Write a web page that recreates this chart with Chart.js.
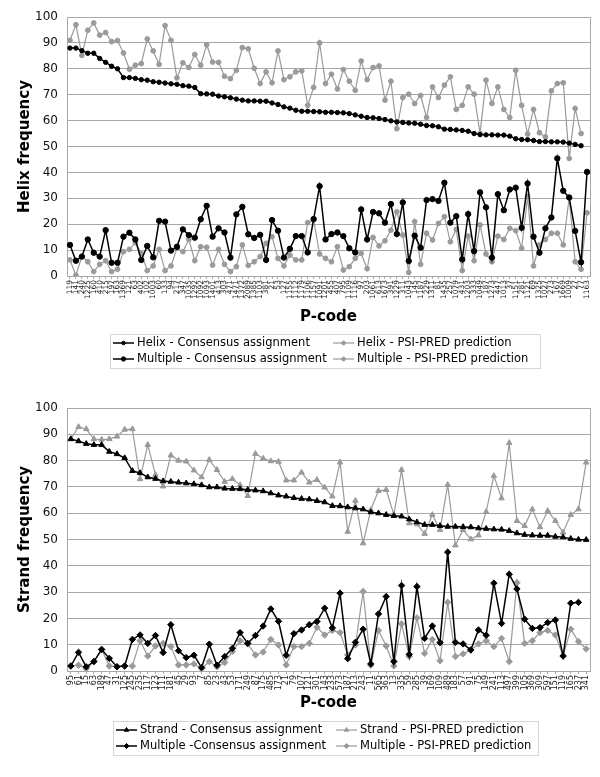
<!DOCTYPE html>
<html>
<head>
<meta charset="utf-8">
<script src="https://cdn.jsdelivr.net/npm/chart.js@4.4.1/dist/chart.umd.min.js"></script>
<style>
  html, body { margin: 0; padding: 0; background: #fff; }
  .painel { position: absolute; left: 0; width: 600px; }
</style>
</head>
<body>
<div class="painel" style="top:0;height:390px"><canvas id="helixChart" width="600" height="390"></canvas></div>
<div class="painel" style="top:390px;height:387px"><canvas id="strandChart" width="600" height="387"></canvas></div>
<script>
// P-codes do grafico de helice (88 proteinas)
var helixCodes = ['119','141','240','1225','160','410','215','197','163','1369','121','63','402','102','1003',
  '60','133','94','217','347','1035','1292','1092','1093','1401','413','303','471','1471','1372','2089','1385',
  '1103','381','21','53','127','1155','1112','1179','1106','1157','1091','1201','455','407','795','1109','1116',
  '97','203','1061','613','1673','391','1229','311','1043','145','1187','229','1311','81','1435','257','1079',
  '431','1203','333','1049','187','1273','447','1013','37','1151','281','1121','69','1325','1027','273','167',
  '1669','1009','27','77','1163'];

var helixConsenso = [88, 88, 87, 86, 86, 84, 82.5, 81, 80, 76.6, 76.6, 76.3, 75.8, 75.6, 75, 74.8, 74.5, 74.2,
  74, 73.5, 73.3, 72.8, 70.4, 70.3, 70.2, 69.5, 69.2, 68.8, 68.3, 67.9, 67.6, 67.6, 67.5, 67.5, 66.8, 66.2, 65.3,
  64.8, 64, 63.6, 63.6, 63.5, 63.4, 63.2, 63.2, 63.1, 63, 62.7, 62.2, 61.7, 61.2, 61.1, 60.8, 60.4, 59.9, 59.5,
  59.3, 59.1, 59, 58.6, 58.1, 58, 57.6, 56.7, 56.6, 56.4, 56.2, 55.9, 55, 54.6, 54.5, 54.5, 54.4, 54.4, 54, 53,
  52.7, 52.6, 52.3, 51.9, 51.9, 51.8, 51.8, 51.7, 51.3, 50.8, 50.3, null];

var helixPsipred = [91, 97, 85.2, 94.9, 97.7, 93, 94, 90.5, 90.9, 86.1, 79.8, 81.4, 82, 91.5, 86.9, 81.7, 96.7,
  91, 76.5, 82.3, 80.5, 85.5, 81.4, 89.3, 82.6, 82.5, 77.1, 76.2, 79.4, 88.2, 87.7, 80.2, 74.3, 78.8, 74.6, 86.9,
  75.8, 76.9, 78.8, 79.2, 65.9, 72.8, 90, 74.3, 77.9, 72.2, 79.7, 75.2, 71.7, 83, 75.8, 80.5, 81.1, 67.9, 75.2,
  56.9, 68.9, 70.2, 66.6, 69.7, 61.2, 73, 68.9, 73.7, 76.9, 64.3, 65.9, 73, 70.2, 55, 75.6, 66.6, 73, 64.3, 61.2,
  79.4, 65.9, 54.8, 64.3, 55.3, 53.7, 71.5, 74.3, 74.6, 45.4, 64.7, 55, null];

var helixMultConsenso = [12, 5.9, 7.5, 14.1, 9, 7.5, 17.7, 5.1, 5.1, 15.2, 16.7, 14.1, 6.2, 11.6, 7.2, 21.3, 21,
  9.8, 11.3, 18, 15.8, 14.8, 21.9, 27.1, 15.2, 18.4, 16.8, 7.1, 23.8, 26.7, 16.1, 14.7, 15.9, 6.2, 21.6, 17.5,
  7.1, 10.5, 15.4, 15.4, 9.1, 22, 34.7, 14.1, 16.2, 16.8, 15.4, 10.7, 9.1, 25.7, 14.1, 24.7, 24.2, 20.6, 27.8,
  16.2, 28.4, 5.8, 15.6, 10.9, 29.3, 29.7, 29, 36, 20.6, 23.1, 6.4, 23.9, 9.6, 32.3, 26.5, 7.1, 31.6, 25.4, 33.4,
  34.1, 18.6, 35.7, 15.2, 9, 18.4, 22.6, 45.4, 32.9, 30.3, 17.4, 5.3, 40.2];

var helixMultPsipred = [6.2, 0.3, 7.5, 5.5, 1.7, 4.5, 5.9, 1.7, 2.6, 9.4, 10.3, 12.9, 8.7, 2.1, 3.9, 10.3, 2.1,
  3.9, 10.7, 9.4, 14.1, 5.9, 11.3, 11.1, 4.2, 10.3, 4.5, 1.7, 3.6, 12, 4.1, 5.5, 7.5, 12.6, 15.2, 6.8, 3.9, 8.1,
  6.2, 6.2, 20.6, 21.6, 8.5, 6.8, 5.5, 11.3, 2.3, 3.6, 6.8, 8.7, 2.8, 14.9, 11.6, 13.6, 17.7, 24.8, 15.8, 1.4, 21,
  4.5, 16.5, 13.9, 20.3, 22.9, 13.2, 18, 2.1, 15.4, 5.9, 19.7, 8.5, 5.5, 15.4, 14.1, 18.4, 17.5, 10.7, 30.8, 3.9,
  12, 14.1, 16.5, 16.5, 12, 30.3, 5.5, 2.6, 24.4];

// P-codes do grafico de fita (68 proteinas)
var strandCodes = ['95','61','15','63','189','47','31','125','245','235','117','123','111','181','45','29','93',
  '7','85','23','43','53','171','249','87','175','485','173','21','79','107','121','301','143','233','573','187',
  '213','243','11','565','363','13','335','59','285','39','169','109','489','183','57','91','75','149','241',
  '113','497','399','105','369','309','597','151','119','165','237','341'];

var strandConsenso = [88.2, 87.4, 86.4, 86, 86, 83.4, 82.5, 81, 76.1, 75.3, 73.7, 73.1, 72.2, 72, 71.7, 71.4,
  71.1, 70.7, 69.9, 69.9, 69.4, 69.3, 69.2, 68.9, 68.7, 68.4, 67.6, 66.8, 66.4, 65.8, 65.5, 65.3, 64.7, 64.2,
  62.8, 62.7, 62.3, 61.9, 61.5, 60.4, 60, 59.4, 59, 58.8, 57.7, 56.6, 55.6, 55.6, 55.2, 54.9, 54.9, 54.8, 54.7,
  54.3, 54.1, 53.9, 53.8, 53.3, 52.4, 51.8, 51.6, 51.5, 51.5, 51.1, 50.9, 50.3, 50, 49.9];

var strandPsipred = [88.2, 92.8, 92, 88.2, 88, 88.2, 89.2, 91.8, 92, 73, 86, 74.6, 70.2, 82, 80, 79.7, 76.3,
  73.7, 80.3, 76.5, 72, 73, 70.7, 66.6, 82.6, 80.8, 79.8, 79.6, 72.5, 72.5, 75.5, 71.7, 72.7, 69.8, 66.4, 79.3,
  53, 64.8, 48.6, 61.3, 68.5, 68.9, 59.5, 76.5, 56.2, 55.8, 52.2, 59.4, 53.7, 70.8, 47.8, 53.7, 50.1, 51.6, 60.5,
  74.2, 65.7, 86.7, 57.1, 55.2, 61.5, 54.7, 60.9, 57.1, 52.7, 59.4, 61.5, 79.3];

var strandMultConsenso = [1.9, 7.1, 1.6, 3.6, 8.2, 4.8, 1.6, 1.9, 12, 13.7, 10.5, 13.5, 7, 17.6, 7.7, 5.1, 6,
  1.3, 10.2, 2.2, 5.5, 8.6, 14.6, 10.5, 13.5, 17.1, 23.6, 18.9, 6, 14.2, 15.6, 17.6, 18.8, 23.9, 16.4, 29.6, 4.7,
  10.9, 15.9, 2.7, 21.7, 28.3, 3.6, 32.5, 6.3, 32.1, 12.4, 17.1, 10.8, 45.2, 10.9, 10.3, 8, 15.6, 13.6, 33.4,
  18.1, 36.8, 31.2, 19.7, 16.2, 16.5, 18.4, 19.4, 5.7, 25.8, 26.1, null];

var strandMultPsipred = [1.9, 2.2, 0.9, 3.6, 8.2, 1.9, 1.6, 1.9, 1.9, 11.5, 5.7, 9.5, 10.5, 9.3, 2.3, 2.3, 2.7,
  0.9, 3.6, 1.6, 3.2, 7.4, 11.5, 10.3, 6.1, 7.2, 12, 9.9, 2.3, 9.3, 9.3, 10.5, 16.6, 13.7, 15.4, 14.6, 6.1, 9.9,
  30.2, 2.2, 15.4, 9.5, 1.9, 17.9, 5.5, 20.2, 6.7, 12, 3.9, 26.1, 5.5, 6.5, 8, 10.3, 11.5, 9.3, 12.4, 3.6, 33.6,
  10.5, 11.5, 14.6, 15.4, 13.7, 5.7, 15.9, 11.2, 8.4];

var yTicks = [0, 10, 20, 30, 40, 50, 60, 70, 80, 90, 100];

var PRETO = '#000000';
var CINZA = '#9a9a9a';
var GRADE = '#a8a8a8';
var FONTE = '"DejaVu Sans", Verdana, sans-serif';

// borda direita do grafico + legenda com caixa (2 colunas)
var moldura = {
  id: 'moldura',
  beforeDatasetsDraw: function (chart) {
    var ctx = chart.ctx, a = chart.chartArea;
    ctx.save();
    ctx.strokeStyle = GRADE;
    ctx.lineWidth = 1;
    ctx.beginPath();
    ctx.moveTo(Math.round(a.right) + 0.5, a.top);
    ctx.lineTo(Math.round(a.right) + 0.5, a.bottom);
    ctx.stroke();
    ctx.restore();
  },
  afterDraw: function (chart, args, opts) {
    var ctx = chart.ctx;
    ctx.save();
    ctx.strokeStyle = '#d6d6d6';
    ctx.lineWidth = 1;
    ctx.strokeRect(opts.x + 0.5, opts.y + 0.5, opts.w, opts.h);
    ctx.font = '11.5px ' + FONTE;
    ctx.textBaseline = 'middle';
    chart.data.datasets.forEach(function (ds, i) {
      var lx = opts.x + 3 + (i % 2) * opts.col;
      var ly = opts.y + opts.row1 + Math.floor(i / 2) * opts.gap;
      ctx.strokeStyle = ds.borderColor;
      ctx.fillStyle = ds.backgroundColor;
      ctx.lineWidth = ds.borderWidth;
      ctx.beginPath();
      ctx.moveTo(lx, ly);
      ctx.lineTo(lx + 21, ly);
      ctx.stroke();
      ctx.lineWidth = 1;
      Chart.helpers.drawPoint(ctx, { pointStyle: ds.pointStyle, radius: ds.pointRadius * 0.8, rotation: 0, borderWidth: 1 }, lx + 10.5, ly);
      ctx.fillStyle = '#000';
      ctx.fillText(ds.label, lx + 24, ly + 0.5);
    });
    ctx.restore();
  }
};

function serie(label, dados, cor, estilo, raio, larg, ordem) {
  return {
    label: label,
    data: dados,
    borderColor: cor,
    backgroundColor: cor,
    borderWidth: larg,
    pointStyle: estilo,
    pointRadius: raio,
    pointBorderWidth: 1,
    tension: 0,
    order: ordem
  };
}

function montaGrafico(id, codes, datasets, cfg) {
  return new Chart(document.getElementById(id), {
    type: 'line',
    data: { labels: codes, datasets: datasets },
    options: {
      responsive: false,
      animation: false,
      events: [],
      layout: { padding: { top: cfg.top, right: 10, bottom: cfg.bottom, left: 0 } },
      scales: {
        x: {
          offset: true,
          grid: { display: true, drawOnChartArea: false, drawTicks: true, tickLength: 3, color: GRADE },
          border: { display: true, color: GRADE },
          ticks: {
            autoSkip: false, maxRotation: 90, minRotation: 90, padding: 1,
            color: '#222', font: { family: FONTE, size: cfg.tickSize }
          },
          title: {
            display: true, text: 'P-code', color: '#000',
            font: { family: FONTE, size: 15, weight: 'bold' }, padding: { top: 0, bottom: 4 }
          },
          afterFit: function (s) { s.height = cfg.xAltura; }
        },
        y: {
          min: 0, max: 100,
          afterBuildTicks: function (s) { s.ticks = yTicks.map(function (v) { return { value: v }; }); },
          grid: { color: GRADE, drawTicks: false },
          border: { display: true, color: GRADE },
          ticks: { padding: 9, color: '#111', font: { family: FONTE, size: 12 } },
          title: {
            display: true, text: cfg.yTitle, color: '#000',
            font: { family: FONTE, size: 15, weight: 'bold' }, padding: { top: 16, bottom: 0 }
          },
          afterFit: function (s) { s.width = 67; }
        }
      },
      plugins: {
        legend: { display: false },
        tooltip: { enabled: false },
        moldura: cfg.legenda
      }
    },
    plugins: [moldura]
  });
}

montaGrafico('helixChart', helixCodes, [
  serie('Helix - Consensus assignment', helixConsenso, PRETO, 'circle', 2.2, 1.5, 1),
  serie('Helix - PSI-PRED prediction', helixPsipred, CINZA, 'circle', 2.4, 1.2, 2),
  serie('Multiple - Consensus assignment', helixMultConsenso, PRETO, 'circle', 2.7, 1.5, 1),
  serie('Multiple - PSI-PRED prediction', helixMultPsipred, CINZA, 'circle', 2.4, 1.2, 2)
], { top: 17, bottom: 60, xAltura: 54, tickSize: 7.5, yTitle: 'Helix frequency',
     legenda: { x: 110, y: 334, w: 430, h: 34, col: 220, row1: 9, gap: 16 } });

montaGrafico('strandChart', strandCodes, [
  serie('Strand - Consensus assignment', strandConsenso, PRETO, 'triangle', 3.2, 1.5, 1),
  serie('Strand - PSI-PRED prediction', strandPsipred, CINZA, 'triangle', 3.2, 1.2, 2),
  serie('Multiple -Consensus assignment', strandMultConsenso, PRETO, 'rectRot', 3.2, 1.5, 1),
  serie('Multiple - PSI-PRED prediction', strandMultPsipred, CINZA, 'rectRot', 3.2, 1.2, 2)
], { top: 18, bottom: 61, xAltura: 45, tickSize: 8, yTitle: 'Strand frequency',
     legenda: { x: 113, y: 331, w: 425, h: 34, col: 220, row1: 9, gap: 16 } });
</script>
</body>
</html>
